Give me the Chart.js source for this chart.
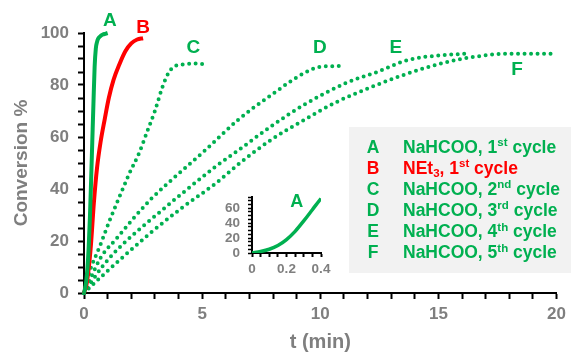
<!DOCTYPE html>
<html>
<head>
<meta charset="utf-8">
<script src="https://cdn.jsdelivr.net/npm/chart.js@4.4.1/dist/chart.umd.min.js"></script>
<style>
  body { margin: 0; background: #fff; }
  #wrap { position: relative; width: 571px; height: 352px; }
  #main { position: absolute; left: 0; top: 0; }
  #inset { position: absolute; left: 200px; top: 180px; }
</style>
</head>
<body>
<div id="wrap">
  <canvas id="main" width="571" height="352"></canvas>
  <canvas id="inset" width="140" height="100"></canvas>
</div>
<script>
// time (min) and conversion (%)
const tA = [0, 0.05, 0.1, 0.15, 0.2, 0.25, 0.3, 0.35, 0.4, 0.45, 0.5, 0.55, 0.6, 0.7, 0.8, 0.9, 1.0];
const convA = [0, 2, 5, 10, 18, 29, 43, 58, 73, 87, 94, 96.5, 97.8, 98.8, 99.4, 99.7, 100];

const tB = [0, 0.12, 0.28, 0.42, 0.55, 0.7, 0.88, 1.05, 1.25, 1.5, 1.75, 2.0, 2.25, 2.5];
const convB = [0, 4, 17, 35, 48, 58, 67, 75, 82, 88, 93, 96, 97.5, 98];

const tC = [0, 0.25, 0.67, 1.09, 1.5, 1.92, 2.34, 2.67, 3.0, 3.35, 3.6, 3.85, 4.3, 4.8, 5.1];
const convC = [0, 8.5, 18, 28, 37, 46, 54, 62, 70, 80, 85, 87.3, 88, 88.3, 88];

const tD = [0, 0.35, 0.7, 1.38, 2.8, 4.18, 5.14, 6.51, 7.9, 9.3, 10.0, 10.8];
const convD = [0, 7, 13.5, 21, 35.8, 47.3, 55, 66.5, 76, 84.5, 87, 87.3];

const tE = [0, 0.83, 1.67, 2.8, 4.18, 5.55, 6.55, 7.9, 9.3, 11.1, 12.4, 13.7, 15.2, 16.1];
const convE = [0, 10.8, 19, 28, 38.5, 48.5, 55, 64, 72.3, 80.8, 85, 89.6, 91.5, 92];

const tF = [0, 0.7, 1.67, 2.8, 4.18, 5.55, 6.6, 7.9, 9.3, 10.7, 12.1, 13.5, 14.6, 15.2, 16.5, 17.9, 20];
const convF = [0, 6, 14, 23, 33, 42, 50, 58.8, 66.5, 73.5, 79, 83.8, 87, 88.5, 90.8, 92, 92];

const curveKeys = ['A', 'B', 'C', 'D', 'E', 'F'];
const legendRows = [
  [['NaHCOO, 1', ''], ['st', 'sup'], [' cycle', '']],
  [['NEt', ''], ['3', 'sub'], [', 1', ''], ['st', 'sup'], [' cycle', '']],
  [['NaHCOO, 2', ''], ['nd', 'sup'], [' cycle', '']],
  [['NaHCOO, 3', ''], ['rd', 'sup'], [' cycle', '']],
  [['NaHCOO, 4', ''], ['th', 'sup'], [' cycle', '']],
  [['NaHCOO, 5', ''], ['th', 'sup'], [' cycle', '']]
];

const GREEN = '#00b050';
const RED = '#ff0000';
const GREY = '#7f7f7f';
const FAM = '"Liberation Sans", Arial, sans-serif';

function pts(t, v) {
  return t.map((x, i) => ({ x: x, y: v[i] }));
}

function solid(data, color) {
  return { data: data, borderColor: color, borderWidth: 4, pointRadius: 0,
           tension: 0.4, cubicInterpolationMode: 'monotone', clip: false };
}
function dotted(data) {
  return { data: data, borderColor: GREEN, borderWidth: 4, borderDash: [0, 6.5],
           borderCapStyle: 'round', pointRadius: 0, tension: 0.4,
           cubicInterpolationMode: 'monotone', clip: false };
}

// where the curve letters sit, in data units
const letterPos = [[1.09, 104.6], [2.5, 102], [4.63, 94.2], [9.98, 94.2], [13.2, 94.2], [18.33, 85.8]];
const letterColor = [GREEN, RED, GREEN, GREEN, GREEN, GREEN];

const decor = {
  id: 'decor',
  afterDraw(chart) {
    const ctx = chart.ctx;
    const sx = chart.scales.x, sy = chart.scales.y;
    ctx.save();
    ctx.textAlign = 'center';
    ctx.textBaseline = 'middle';
    ctx.font = 'bold 19px ' + FAM;
    curveKeys.forEach((k, i) => {
      ctx.fillStyle = letterColor[i];
      ctx.fillText(k, sx.getPixelForValue(letterPos[i][0]), sy.getPixelForValue(letterPos[i][1]));
    });

    // legend box
    ctx.fillStyle = '#f2f2f2';
    ctx.fillRect(349, 127, 222, 146);
    legendRows.forEach((row, i) => {
      const y = 148 + i * 21.1;
      ctx.fillStyle = letterColor[i];
      ctx.textAlign = 'center';
      ctx.textBaseline = 'middle';
      ctx.font = 'bold 17.5px ' + FAM;
      ctx.fillText(curveKeys[i], 373, y);
      ctx.textAlign = 'left';
      let x = 403;
      row.forEach(seg => {
        let dy = 0;
        if (seg[1] === 'sup') { ctx.font = 'bold 11.5px ' + FAM; dy = -5; }
        else if (seg[1] === 'sub') { ctx.font = 'bold 11.5px ' + FAM; dy = 5; }
        else ctx.font = 'bold 17.5px ' + FAM;
        ctx.fillText(seg[0], x, y + dy);
        x += ctx.measureText(seg[0]).width;
      });
    });
    ctx.restore();
  }
};

new Chart(document.getElementById('main'), {
  type: 'line',
  data: {
    datasets: [
      solid(pts(tA, convA), GREEN),
      solid(pts(tB, convB), RED),
      dotted(pts(tC, convC)),
      dotted(pts(tD, convD)),
      dotted(pts(tE, convE)),
      dotted(pts(tF, convF))
    ]
  },
  options: {
    responsive: false,
    animation: false,
    layout: { padding: { left: 0, top: 33, right: 8, bottom: 0 } },
    plugins: { legend: { display: false }, tooltip: { enabled: false } },
    scales: {
      x: {
        type: 'linear', min: 0, max: 20,
        afterFit: s => { s.height = 59; },
        border: { display: true, color: '#000', width: 2 },
        grid: { drawOnChartArea: false, drawTicks: true, tickLength: 6, tickColor: '#000', tickWidth: 2 },
        ticks: {
          stepSize: 1, autoSkip: false, maxRotation: 0, padding: 5,
          color: GREY, font: { family: FAM, size: 17, weight: 'bold' },
          callback: v => (v % 5 === 0 ? v : '')
        },
        title: { display: true, text: 't (min)', color: GREY, padding: 0,
                 font: { family: FAM, size: 20, weight: 'bold', lineHeight: 1 } }
      },
      y: {
        min: 0, max: 100,
        afterFit: s => { s.width = 84; },
        border: { display: true, color: '#000', width: 2 },
        grid: { drawOnChartArea: false, drawTicks: true, tickLength: 6, tickColor: '#000', tickWidth: 2 },
        ticks: {
          stepSize: 5, autoSkip: false, padding: 9,
          color: GREY, font: { family: FAM, size: 17, weight: 'bold' },
          callback: v => (v % 20 === 0 ? v : '')
        },
        title: { display: true, text: 'Conversion %', color: GREY, padding: { top: 10, bottom: 0 },
                 font: { family: FAM, size: 19, weight: 'bold' } }
      }
    }
  },
  plugins: [decor]
});

// inset: the first 0.4 min of curve A
const insetLetter = {
  id: 'insetLetter',
  afterDraw(chart) {
    const ctx = chart.ctx;
    ctx.save();
    ctx.fillStyle = GREEN;
    ctx.font = 'bold 18px ' + FAM;
    ctx.textAlign = 'center';
    ctx.textBaseline = 'middle';
    ctx.fillText('A', chart.scales.x.getPixelForValue(0.26), chart.scales.y.getPixelForValue(68));
    ctx.restore();
  }
};

new Chart(document.getElementById('inset'), {
  type: 'line',
  data: { datasets: [{ data: pts(tA, convA), borderColor: GREEN, borderWidth: 3.5, pointRadius: 0,
                       tension: 0.4, cubicInterpolationMode: 'monotone' }] },
  options: {
    responsive: false,
    animation: false,
    layout: { padding: { left: 0, top: 17, right: 19, bottom: 0 } },
    plugins: { legend: { display: false }, tooltip: { enabled: false } },
    scales: {
      x: {
        type: 'linear', min: 0, max: 0.4,
        afterFit: s => { s.height = 27; },
        border: { display: true, color: '#000', width: 2 },
        grid: { drawOnChartArea: false, drawTicks: true, tickLength: 4, tickColor: '#000', tickWidth: 2 },
        ticks: {
          stepSize: 0.05, autoSkip: false, maxRotation: 0, padding: 4,
          color: GREY, font: { family: FAM, size: 13.5, weight: 'bold' },
          callback: v => (Math.round(v * 100) % 20 === 0 ? Math.round(v * 10) / 10 : '')
        }
      },
      y: {
        min: 0, max: 75,
        afterFit: s => { s.width = 52; },
        border: { display: true, color: '#000', width: 2 },
        grid: { drawOnChartArea: false, drawTicks: true, tickLength: 4, tickColor: '#000', tickWidth: 1.5 },
        ticks: {
          stepSize: 5, autoSkip: false, padding: 8,
          color: GREY, font: { family: FAM, size: 13.5, weight: 'bold' },
          callback: v => (v % 20 === 0 ? v : '')
        }
      }
    }
  },
  plugins: [insetLetter]
});
</script>
</body>
</html>
